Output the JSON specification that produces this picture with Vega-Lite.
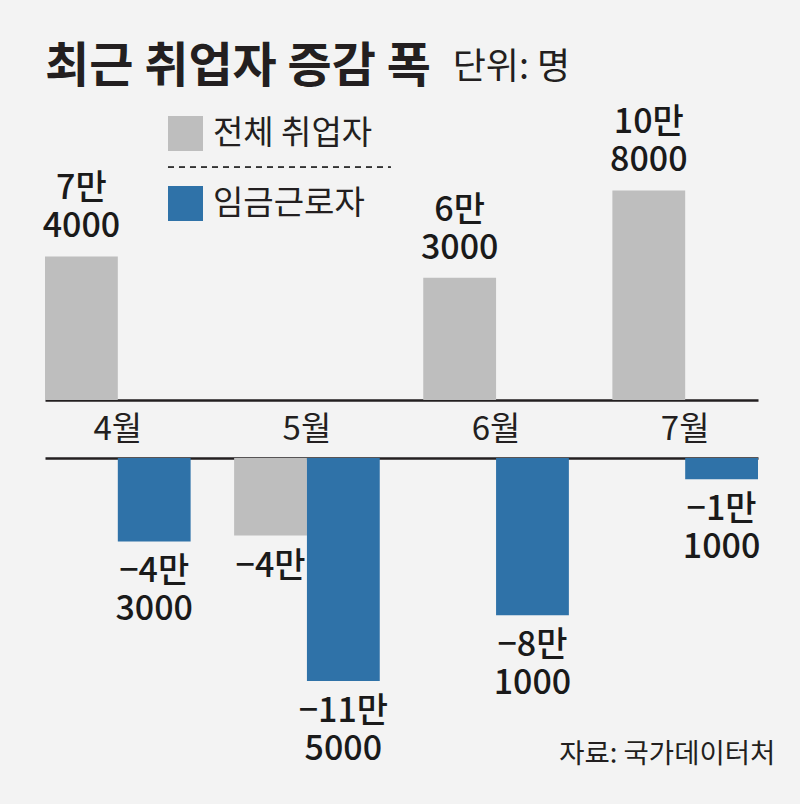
{
  "$schema": "https://vega.github.io/schema/vega-lite/v6.json",
  "background": "#f3f3f3",
  "padding": {"left": 42, "top": 44, "right": 30, "bottom": 35},
  "title": {
    "text": "최근 취업자 증감 폭",
    "anchor": "start",
    "frame": "group",
    "fontSize": 48,
    "fontWeight": "bold",
    "color": "#231f20",
    "offset": -42
  },
  "data": {
    "values": [
      {"month": "4월", "series": "전체 취업자", "value": 74000, "label": "7만\n4000"},
      {"month": "4월", "series": "임금근로자", "value": -43000, "label": "−4만\n3000"},
      {"month": "5월", "series": "전체 취업자", "value": -40000, "label": "−4만"},
      {"month": "5월", "series": "임금근로자", "value": -115000, "label": "−11만\n5000"},
      {"month": "6월", "series": "전체 취업자", "value": 63000, "label": "6만\n3000"},
      {"month": "6월", "series": "임금근로자", "value": -81000, "label": "−8만\n1000"},
      {"month": "7월", "series": "전체 취업자", "value": 108000, "label": "10만\n8000"},
      {"month": "7월", "series": "임금근로자", "value": -11000, "label": "−1만\n1000"}
    ]
  },
  "bounds": "flush",
  "spacing": 58,
  "vconcat": [
    {
      "width": 713,
      "height": 291,
      "title": {
        "text": "단위: 명",
        "anchor": "start",
        "dx": 410,
        "dy": -15,
        "fontSize": 36,
        "fontWeight": "normal",
        "color": "#231f20"
      },
      "transform": [{"filter": "datum.value > 0"}],
      "layer": [
        {
          "encoding": {
            "x": {
              "field": "month",
              "type": "nominal",
              "sort": ["4월", "5월", "6월", "7월"],
              "scale": {"type": "band", "domain": ["4월", "5월", "6월", "7월"], "paddingInner": 0.23, "paddingOuter": 0},
              "axis": {
                "orient": "bottom",
                "title": null,
                "ticks": false,
                "labelAngle": 0,
                "labelFontSize": 33,
                "labelColor": "#231f20",
                "labelPadding": 13,
                "domainColor": "#231f20",
                "domainWidth": 2.5
              }
            },
            "xOffset": {
              "field": "series",
              "type": "nominal",
              "scale": {"domain": ["전체 취업자", "임금근로자"], "paddingInner": 0, "paddingOuter": 0}
            },
            "y": {
              "field": "value",
              "type": "quantitative",
              "scale": {"domain": [0, 150000], "nice": false},
              "axis": null
            }
          },
          "layer": [
            {
              "mark": {"type": "bar"},
              "encoding": {
                "color": {
                  "field": "series",
                  "type": "nominal",
                  "scale": {"domain": ["전체 취업자", "임금근로자"], "range": ["#bebebe", "#2f72a8"]},
                  "legend": {
                    "orient": "none",
                    "legendX": 123,
                    "legendY": 7,
                    "title": null,
                    "symbolType": "square",
                    "symbolSize": 1225,
                    "symbolStrokeWidth": 0,
                    "labelFontSize": 33,
                    "labelColor": "#231f20",
                    "labelOffset": 10,
                    "rowPadding": 35
                  }
                }
              }
            },
            {
              "mark": {"type": "text", "baseline": "bottom", "dy": -50, "fontSize": 34, "fontWeight": 500, "lineBreak": "\n", "lineHeight": 38, "color": "#1a1a1a"},
              "encoding": {"text": {"field": "label"}}
            }
          ]
        },
        {
          "mark": {"type": "rule", "strokeDash": [6, 5], "strokeWidth": 1.5, "color": "#333333"},
          "encoding": {
            "x": {"datum": 0.1725, "type": "quantitative", "scale": {"domain": [0, 1]}, "axis": null},
            "x2": {"datum": 0.485},
            "y": {"datum": 120000, "type": "quantitative"}
          }
        }
      ],
      "resolve": {"scale": {"x": "independent"}, "axis": {"x": "independent"}}
    },
    {
      "width": 713,
      "height": 291,
      "title": {
        "text": "자료: 국가데이터처",
        "orient": "bottom",
        "anchor": "end",
        "dx": 15,
        "dy": -30,
        "fontSize": 27.5,
        "fontWeight": "normal",
        "color": "#231f20"
      },
      "transform": [{"filter": "datum.value < 0"}],
      "encoding": {
        "x": {
          "field": "month",
          "type": "nominal",
          "sort": ["4월", "5월", "6월", "7월"],
          "scale": {"type": "band", "domain": ["4월", "5월", "6월", "7월"], "paddingInner": 0.23, "paddingOuter": 0},
          "axis": {
            "orient": "top",
            "title": null,
            "ticks": false,
            "labels": false,
            "domainColor": "#231f20",
            "domainWidth": 2.5
          }
        },
        "xOffset": {
          "field": "series",
          "type": "nominal",
          "scale": {"domain": ["전체 취업자", "임금근로자"], "paddingInner": 0, "paddingOuter": 0}
        },
        "y": {
          "field": "value",
          "type": "quantitative",
          "scale": {"domain": [-150000, 0], "nice": false},
          "axis": null
        }
      },
      "layer": [
        {
          "mark": {"type": "bar"},
          "encoding": {
            "color": {"field": "series", "type": "nominal"}
          }
        },
        {
          "mark": {"type": "text", "baseline": "top", "dy": 14, "fontSize": 34, "fontWeight": 500, "lineBreak": "\n", "lineHeight": 38, "color": "#1a1a1a"},
          "encoding": {"text": {"field": "label"}}
        }
      ]
    }
  ],
  "config": {
    "view": {"stroke": null},
    "font": "Noto Sans CJK KR"
  }
}
